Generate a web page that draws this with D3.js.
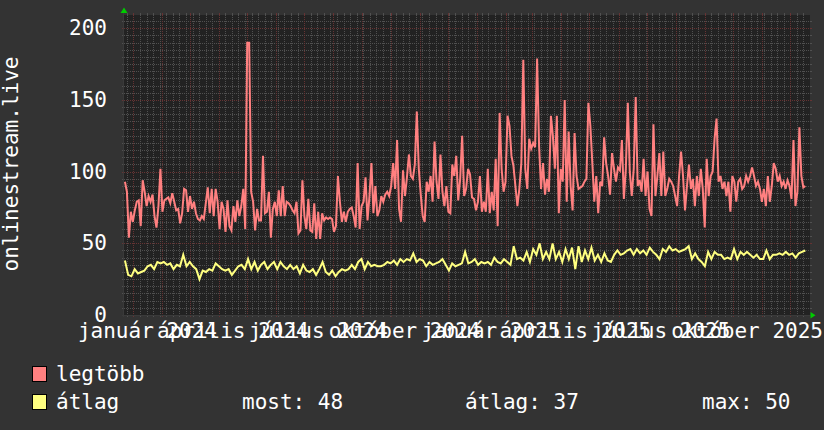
<!DOCTYPE html>
<html><head><meta charset="utf-8">
<script src="https://cdn.jsdelivr.net/npm/d3@7"></script>
<style>
html,body{margin:0;padding:0;background:#333333;}
svg{display:block;}
text{font-family:'DejaVu Sans Mono',monospace;fill:#ffffff;font-size:21px;}
</style>
</head><body>
<svg id="chart" width="824" height="430"></svg>
<script>
// ---------------- data ----------------
const seriesNames = ["legtöbb", "átlag"];
const seriesColors = ["#ff8080", "#ffff80"];
const axisTitle = "onlinestream.live";
const yTicks = [0, 50, 100, 150, 200];
const xLabels = ["január 2024", "április 2024", "július 2024", "október 2024",
                 "január 2025", "április 2025", "július 2025", "október 2025"];
const xLabelDates = ["2024-01-01", "2024-04-01", "2024-07-01", "2024-10-01",
                     "2025-01-01", "2025-04-01", "2025-07-01", "2025-10-01"];
const timeDomain = ["2023-12-22", "2025-12-22"];
const seriesSpan = ["2023-12-23", "2025-12-17"];
const yMax = 209.3;
const gprintLabels = ["most: 48", "átlag: 37", "max: 50"];

// legtöbb (maximum), evenly spaced samples
const maxValues = [
 93,86,54,72,65,73,79,80,62,94,86,76,83,79,84,69,61,76,102,72,80,81,82,78,85,79,73,74,64,71,
 88,87,72,83,74,79,71,67,66,69,67,78,89,71,88,69,88,79,60,79,74,58,80,62,59,76,65,80,69,76,
 88,60,190,190,86,79,59,74,66,66,111,71,72,86,54,74,79,69,87,69,90,69,79,78,
 76,73,71,79,57,59,94,69,60,81,59,58,78,53,72,53,71,66,68,67,68,67,58,62,97,79,65,72,65,72,
 74,75,69,61,106,60,76,79,96,66,83,106,71,90,69,73,83,79,84,86,83,90,106,88,122,74,65,101,83,96,
 112,97,95,105,142,102,84,69,65,93,86,97,79,121,93,81,112,86,76,90,72,71,105,
 97,111,80,95,125,83,88,102,98,82,81,73,79,97,72,79,72,102,71,86,73,109,62,141,102,86,93,139,132,111,
 104,90,76,88,106,178,102,88,123,116,120,117,179,118,88,106,84,95,86,139,125,102,139,71,102,93,150,79,128,90,
 73,127,97,88,89,90,93,95,148,132,106,79,97,71,93,90,124,106,97,84,113,102,93,103,101,122,81,102,
 148,100,83,102,152,90,94,86,109,83,100,74,69,133,83,97,113,83,114,83,88,95,93,90,83,76,97,114,97,73,
 90,105,88,95,76,97,83,102,88,61,109,83,97,100,123,137,93,97,88,93,83,93,72,97,93,79,93,95,88,90,
 97,93,97,103,97,90,93,88,79,88,76,97,79,90,106,102,93,97,90,93,88,94,90,81,122,76,86,131,97,89,90
];

// átlag (average), evenly spaced samples
const avgValues = [
 38,28,27,32,29,30,31,34,35,32,37,36,37,35,36,32,35,34,42,34,37,34,32,25,31,30,32,31,36,34,
 32,31,32,28,31,34,35,32,39,32,37,31,35,37,32,35,37,32,37,34,32,
 35,32,34,29,35,31,30,32,28,32,37,30,28,31,27,30,32,31,32,35,32,37,39,32,37,34,35,34,34,35,
 37,36,38,35,39,37,39,38,43,37,39,38,34,37,35,36,37,39,35,31,36,34,
 35,36,44,36,37,39,35,37,36,37,35,40,37,36,39,37,35,48,39,40,38,44,37,46,42,50,39,44,39,50,
 39,44,37,46,39,47,32,48,37,45,39,47,38,42,37,43,38,37,42,45,42,43,45,
 46,42,46,43,45,42,47,44,42,39,46,44,48,45,46,44,45,46,48,39,43,39,37,34,44,39,44,42,42,39,
 40,39,46,39,44,42,44,42,40,42,39,39,45,39,42,42,43,42,44,42,43,40,43,44,45
];

// ---------------- layout ----------------
const X0 = 124, X1 = 810, Y0 = 315, Y1 = 15;
const parse = s => { const [y,m,d] = s.split("-").map(Number); return new Date(y, m-1, d); };

const svg = d3.select("#chart");
svg.append("rect").attr("width", 824).attr("height", 430).attr("fill", "#333333");
svg.append("rect").attr("x", X0).attr("y", Y1).attr("width", X1 - X0).attr("height", Y0 - Y1).attr("fill", "#222222");

const x = d3.scaleTime().domain(timeDomain.map(parse)).range([X0, X1]);
const y = d3.scaleLinear().domain([0, yMax]).range([Y0, Y1]);

const minorCol = "#505050", majorCol = "#663333";
const g = svg.append("g");

// minor horizontal grid (every 5)
const minorY = d3.range(5, yMax, 5).filter(v => v % 50 !== 0);
minorY.forEach(v => {
  const yy = Math.round(y(v)) + 0.5;
  g.append("line").attr("x1", X0).attr("x2", X1).attr("y1", yy).attr("y2", yy)
    .attr("stroke", minorCol).attr("stroke-dasharray", "1,1");
  g.append("line").attr("x1", X0 - 2).attr("x2", X0).attr("y1", yy).attr("y2", yy).attr("stroke", minorCol);
  g.append("line").attr("x1", X1).attr("x2", X1 + 2).attr("y1", yy).attr("y2", yy).attr("stroke", minorCol);
});
// minor vertical grid (weeks)
const months = d3.timeMonth.range(x.domain()[0], x.domain()[1]);
const monthSet = new Set(months.map(d => +d));
d3.timeMonday.range(x.domain()[0], x.domain()[1]).filter(d => !monthSet.has(+d)).forEach(d => {
  const xx = Math.round(x(d)) + 0.5;
  g.append("line").attr("x1", xx).attr("x2", xx).attr("y1", Y1).attr("y2", Y0)
    .attr("stroke", minorCol).attr("stroke-dasharray", "1,1");
  g.append("line").attr("x1", xx).attr("x2", xx).attr("y1", Y0).attr("y2", Y0 + 2).attr("stroke", minorCol);
  g.append("line").attr("x1", xx).attr("x2", xx).attr("y1", Y1 - 2).attr("y2", Y1).attr("stroke", minorCol);
});
// major horizontal grid
yTicks.filter(v => v > 0).forEach(v => {
  const yy = Math.round(y(v)) + 0.5;
  g.append("line").attr("x1", X0).attr("x2", X1).attr("y1", yy).attr("y2", yy)
    .attr("stroke", majorCol).attr("stroke-dasharray", "1,1");
  g.append("line").attr("x1", X0 - 2).attr("x2", X0).attr("y1", yy).attr("y2", yy).attr("stroke", majorCol);
  g.append("line").attr("x1", X1).attr("x2", X1 + 2).attr("y1", yy).attr("y2", yy).attr("stroke", majorCol);
});
// major vertical grid (months)
months.forEach(d => {
  const xx = Math.round(x(d)) + 0.5;
  g.append("line").attr("x1", xx).attr("x2", xx).attr("y1", Y1).attr("y2", Y0)
    .attr("stroke", majorCol).attr("stroke-dasharray", "1,1");
  g.append("line").attr("x1", xx).attr("x2", xx).attr("y1", Y0).attr("y2", Y0 + 2).attr("stroke", majorCol);
  g.append("line").attr("x1", xx).attr("x2", xx).attr("y1", Y1 - 2).attr("y2", Y1).attr("stroke", majorCol);
});

// y labels
yTicks.forEach(v => {
  svg.append("text").attr("x", 107).attr("y", y(v)).attr("text-anchor", "end")
    .attr("dominant-baseline", "central").text(v);
});
// x labels (centred on the month interval)
xLabels.forEach((t, i) => {
  const d = d3.timeDay.offset(parse(xLabelDates[i]), 15);
  svg.append("text").attr("x", x(d)).attr("y", 338).attr("text-anchor", "middle").text(t);
});

// series
function drawSeries(vals, color) {
  const tIdx = d3.scaleLinear().domain([0, vals.length - 1])
    .range(seriesSpan.map(s => +parse(s)));
  const line = d3.line().x((d, i) => x(new Date(tIdx(i)))).y(d => y(d));
  svg.append("path").datum(vals).attr("d", line).attr("fill", "none")
    .attr("stroke", color).attr("stroke-width", 2).attr("stroke-linejoin", "miter");
}
drawSeries(maxValues, seriesColors[0]);
drawSeries(avgValues, seriesColors[1]);

// axes + arrows
svg.append("line").attr("x1", X0 - 0.5).attr("x2", X0 - 0.5).attr("y1", Y0 + 2).attr("y2", Y1 - 4).attr("stroke", "#3a3a3a");
svg.append("line").attr("x1", X0 - 2).attr("x2", X1 + 4).attr("y1", Y0 + 0.5).attr("y2", Y0 + 0.5).attr("stroke", "#3a3a3a");
svg.append("path").attr("d", `M${X0-3.5},13 L${X0+3.5},13 L${X0},7.5 Z`).attr("fill", "#00cc00");
svg.append("path").attr("d", `M${X1+0.5},312 L${X1+0.5},318.5 L${X1+5.5},315.2 Z`).attr("fill", "#00cc00");

// y title
svg.append("text").attr("transform", "translate(18,164) rotate(-90)")
  .attr("text-anchor", "middle").text(axisTitle);

// legend
const legY = [366, 394];
seriesNames.forEach((n, i) => {
  svg.append("rect").attr("x", 32.5).attr("y", legY[i] + 0.5).attr("width", 14).attr("height", 15)
    .attr("fill", seriesColors[i]).attr("stroke", "#000").attr("stroke-width", 1);
  svg.append("text").attr("x", 56).attr("y", legY[i] + 15).text(n);
});
const gpX = [242, 465, 702];
gprintLabels.forEach((t, i) => {
  svg.append("text").attr("x", gpX[i]).attr("y", legY[1] + 15).text(t);
});
</script>
</body></html>
